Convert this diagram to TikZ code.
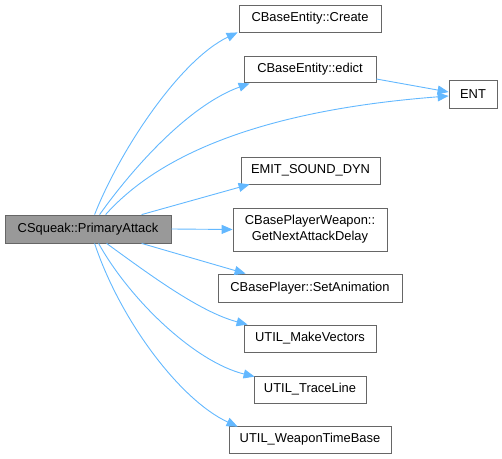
\documentclass[tikz,border=0pt]{standalone}
\usepackage{fontspec}
\setmainfont{Liberation Sans}
\usetikzlibrary{arrows.meta,calc}
\definecolor{edgeblue}{HTML}{63B8FF}
\definecolor{boxline}{HTML}{666666}
\definecolor{mainfill}{HTML}{999999}
\begin{document}
\begin{tikzpicture}[x=1bp,y=-1bp,
  fnbox/.style={draw=boxline,fill=white,line width=0.8bp,inner sep=0pt,
    font=\fontsize{12.9bp}{15.7bp}\selectfont,align=center,text=black},
  mainbox/.style={fnbox,fill=mainfill},
  callarrow/.style={draw=edgeblue,line width=0.9bp,-{Triangle[length=11bp,width=9bp]}}]
\useasboundingbox (0,0) rectangle (502,459);
\node[mainbox,minimum width=166bp,minimum height=28bp] (main) at (88,229) {CSqueak::PrimaryAttack};
\node[fnbox,minimum width=142bp,minimum height=27bp] (create) at (310,18.5) {CBaseEntity::Create};
\node[fnbox,minimum width=132bp,minimum height=26bp] (edict) at (310,69) {CBaseEntity::edict};
\node[fnbox,minimum width=48bp,minimum height=28bp] (ent) at (473,94) {ENT};
\node[fnbox,minimum width=139bp,minimum height=27bp] (emit) at (310.5,170.5) {EMIT\_SOUND\_DYN};
\node[fnbox,minimum width=154bp,minimum height=43bp] (gnad) at (310,229.5) {CBasePlayerWeapon::\\GetNextAttackDelay};
\node[fnbox,minimum width=184bp,minimum height=28bp] (anim) at (310,288) {CBasePlayer::SetAnimation};
\node[fnbox,minimum width=132bp,minimum height=27bp] (mv) at (310,338.5) {UTIL\_MakeVectors};
\node[fnbox,minimum width=112bp,minimum height=27bp] (tl) at (310,389.5) {UTIL\_TraceLine};
\node[fnbox,minimum width=162bp,minimum height=27bp] (wtb) at (310,439.5) {UTIL\_WeaponTimeBase};
% edges
\draw[callarrow] ($(main.north west)+(90,0)$) .. controls (120,150) and (180,60) .. ($(create.south west)+(-1,0)$);
\draw[callarrow] ($(main.north west)+(95,0)$) .. controls (135,165) and (190,105) .. ($(edict.south west)+(6,1)$);
\draw[callarrow] ($(main.north west)+(101,0)$) .. controls (150,165) and (240,112) .. ($(ent.west)+(0,2)$);
\draw[callarrow] ($(edict.east)+(0,10)$) -- ($(ent.west)+(0,-2)$);
\draw[callarrow] ($(main.north west)+(137,0)$) -- ($(emit.south west)+(9,0)$);
\draw[callarrow] (main.east) -- (gnad.west);
\draw[callarrow] ($(main.south west)+(137,0)$) -- ($(anim.north west)+(28,0)$);
\draw[callarrow] ($(main.south west)+(102,0)$) .. controls (150,275) and (200,312) .. ($(mv.north west)+(4,0)$);
\draw[callarrow] ($(main.south west)+(94,0)$) .. controls (130,300) and (195,362) .. ($(tl.north west)+(1,1)$);
\draw[callarrow] ($(main.south west)+(90,0)$) .. controls (120,320) and (180,400) .. ($(wtb.north west)+(9,1)$);
\end{tikzpicture}
\end{document}
